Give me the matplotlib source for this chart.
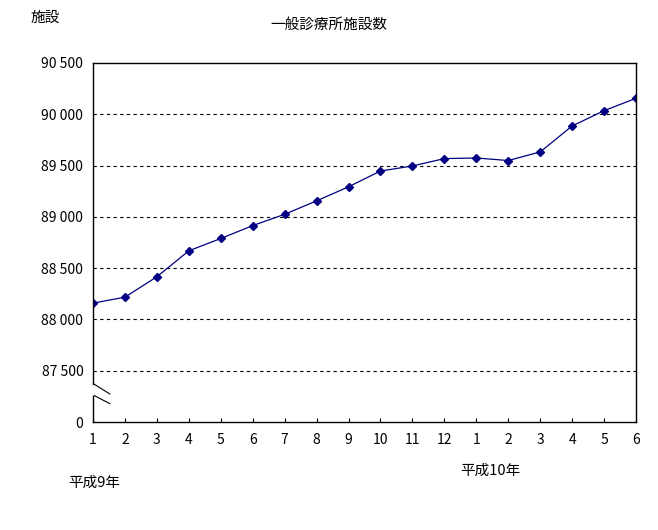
######################################################
# 一般診療所施設数（平成9年1月～平成10年6月）
######################################################
import matplotlib
matplotlib.use("Agg")
import matplotlib.pyplot as plt

plt.rcParams["font.family"] = ["Noto Sans CJK JP", "DejaVu Sans"]

######## Dados ########
meses = ["1", "2", "3", "4", "5", "6", "7", "8", "9", "10", "11", "12",
         "1", "2", "3", "4", "5", "6"]
facilidades = [88159, 88217, 88416, 88669, 88789, 88915, 89025, 89156, 89293,
               89447, 89496, 89568, 89574, 89549, 89633, 89886, 90035, 90156]
y_ticks = [87000, 87500, 88000, 88500, 89000, 89500, 90000, 90500]
y_labels = ["0", "87 500", "88 000", "88 500", "89 000", "89 500", "90 000", "90 500"]

######## Figura ########
fig = plt.figure(figsize=(6.58, 5.30), dpi=100)
ax = fig.add_axes([93 / 658, 1 - 422 / 530, 543 / 658, 359 / 530])

x = list(range(len(meses)))
ax.plot(x, facilidades, color="#000080", linewidth=0.9,
        marker="D", markersize=4, markerfacecolor="#000080",
        markeredgecolor="#000080")

ax.set_xlim(0, len(meses) - 1)
ax.set_ylim(87000, 90500)
ax.set_xticks(x)
ax.set_xticklabels(meses)
ax.set_yticks(y_ticks)
ax.set_yticklabels(y_labels)

for v in y_ticks[1:-1]:
    ax.axhline(v, color="black", linestyle=(0, (3, 3)), linewidth=0.8, zorder=0)

ax.tick_params(axis="x", direction="in", length=3, width=0.8, pad=8,
               labelsize=10)
ax.tick_params(axis="y", length=0, pad=7, labelsize=10)

for s in ["top", "right", "bottom"]:
    ax.spines[s].set_linewidth(1.0)

# eixo vertical com quebra
ax.spines["left"].set_visible(False)
tr = ax.get_yaxis_transform()
ax.plot([0, 0], [87000, 87257], color="black", linewidth=1.0,
        transform=tr, clip_on=False)
ax.plot([0, 0], [87368, 90500], color="black", linewidth=1.0,
        transform=tr, clip_on=False)
ax.plot([0.0024, 0.031], [87368, 87273], color="black", linewidth=0.8,
        transform=tr, clip_on=False)
ax.plot([0.0024, 0.031], [87257, 87179], color="black", linewidth=0.8,
        transform=tr, clip_on=False)

######## Textos ########
fig.text(329 / 658, 1 - 25 / 530, "一般診療所施設数", ha="center", va="center",
         fontsize=10.5)
fig.text(45 / 658, 1 - 18 / 530, "施設", ha="center", va="center", fontsize=10.5)
fig.text(94 / 658, 1 - 483 / 530, "平成9年", ha="center", va="center",
         fontsize=10.5)
fig.text(490 / 658, 1 - 471 / 530, "平成10年", ha="center", va="center",
         fontsize=10.5)

fig.savefig("out.png", dpi=100)
